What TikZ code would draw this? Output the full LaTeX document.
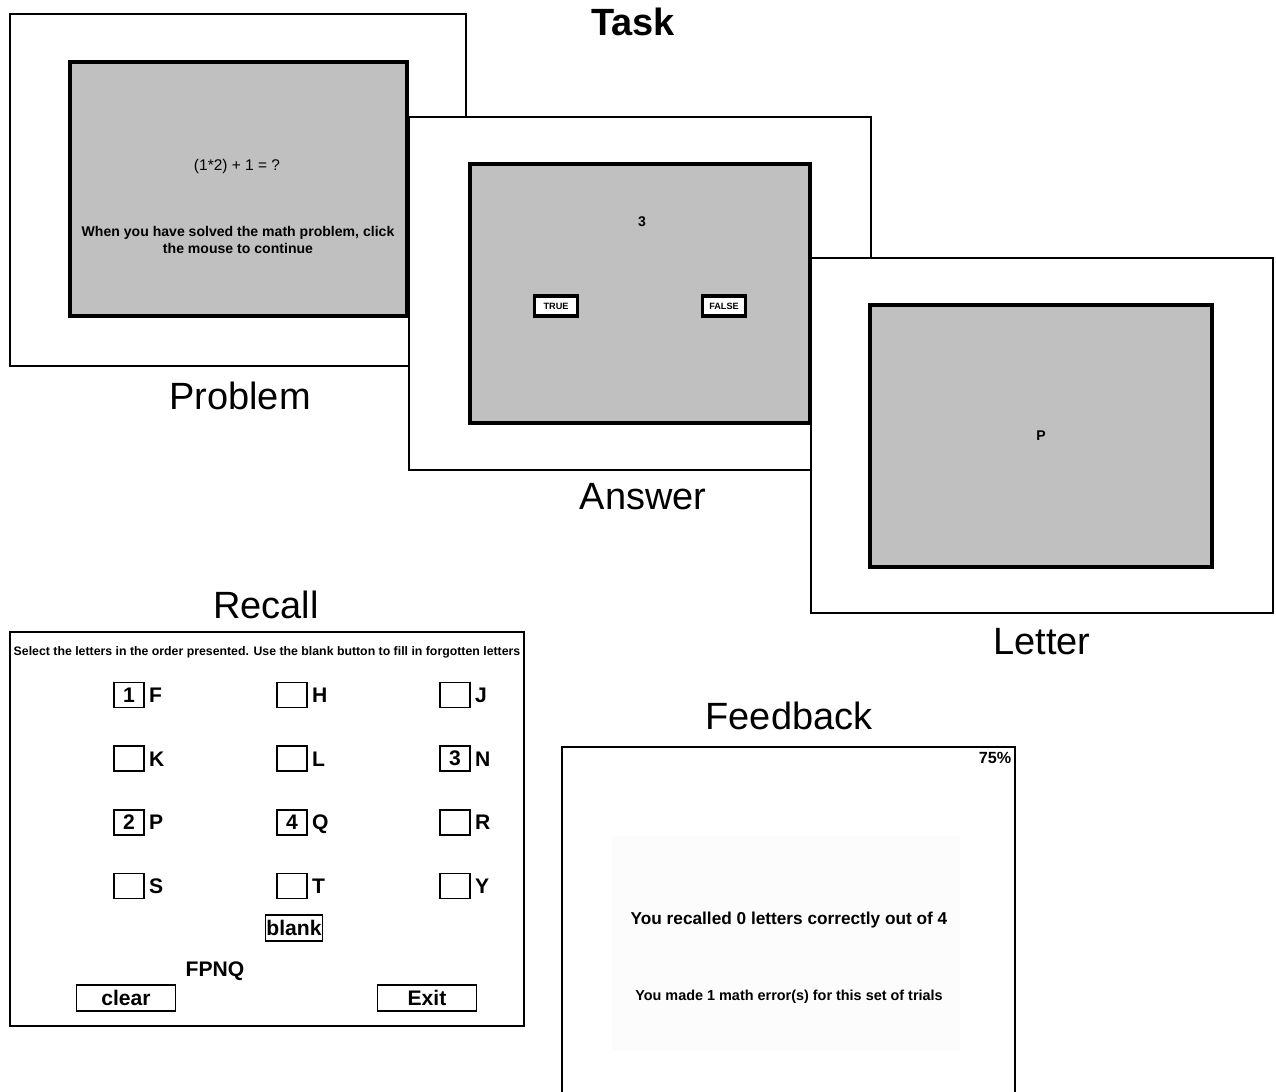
\documentclass[tikz,border=0pt]{standalone}
\usepackage{fontspec}
\setmainfont{Liberation Sans}
\usepackage{xcolor,tikz}
\usetikzlibrary{positioning}
\definecolor{screengray}{RGB}{192,192,192}
\tikzset{
  frame/.style={draw,fill=white,line width=0.6pt},
  screen/.style={draw,fill=screengray,line width=1.3pt},
  caption/.style={font=\fontsize{10.8}{13}\selectfont},
  heading/.style={font=\bfseries\fontsize{10.8}{13}\selectfont},
  small/.style={font=\fontsize{4.4}{5.2}\selectfont},
  tiny/.style={font=\bfseries\fontsize{4}{4.6}\selectfont},
  btn/.style={draw,fill=white,line width=1.1pt,inner sep=0pt,minimum width=0.43cm,minimum height=0.2cm,font=\bfseries\fontsize{2.6}{3}\selectfont},
  chk/.style={draw,line width=0.5pt,inner sep=0pt,minimum width=0.3cm,minimum height=0.25cm,font=\bfseries\fontsize{6}{7}\selectfont},
  pick/.style={inner sep=0pt,text height=4.3pt,text depth=0pt,font=\bfseries\fontsize{6}{7}\selectfont},
  key/.style={draw,line width=0.5pt,inner sep=0pt,minimum height=0.26cm,font=\bfseries\fontsize{6}{7}\selectfont}
}
\begin{document}
\begin{tikzpicture}[x=0.01cm,y=-0.01cm]
\useasboundingbox (0,0) rectangle (1276,1092);
\node[heading] (task) at (633,22) {Task};

% problem
\draw[frame] (10,14) rectangle (466,366);
\draw[screen] (70,62) rectangle (407,316);
\node[small] (sum) at (237,167) {(1*2) + 1 = ?};
\node[tiny,align=center] (hint) at (238,240) {When you have solved the math problem, click\\the mouse to continue};
\node[caption] (problem) at (240,396) {Problem};

% answer
\draw[frame] (409,117) rectangle (871,470);
\draw[screen] (470,164) rectangle (810,423);
\node[tiny] (value) at (642,222) {3};
\node[btn] (true) at (556,306) {TRUE};
\node[btn] (false) at (724,306) {FALSE};
\node[caption] (answer) at (643,497) {Answer};

% letter
\draw[frame] (811,258) rectangle (1273,613);
\draw[screen] (870,305) rectangle (1212,567);
\node[tiny] (shown) at (1041,436) {P};
\node[caption] (letter) at (1042,642) {Letter};

% recall
\node[caption] (recall) at (266,605) {Recall};
\draw[line width=0.8pt] (10,632) rectangle (524,1026);
\node[font=\bfseries\fontsize{3.5}{4}\selectfont] (instr) at (267,652) {Select the letters in the order presented. Use the blank button to fill in forgotten letters};
\foreach \l/\d [count=\k from 0] in {F/1,H/,J/,K/,L/,N/3,P/2,Q/4,R/,S/,T/,Y/} {
  \pgfmathsetmacro\cx{129+163*mod(\k,3)}
  \pgfmathsetmacro\cy{695+63.7*int(\k/3)}
  \node[chk] (box\k) at (\cx,\cy) {\d};
  \node[pick,right=1pt of box\k] (pick\k) {\l};
};
\node[key,minimum width=0.57cm] (blank) at (294,928) {blank};
\node[pick] (typed) at (215,969) {FPNQ};
\node[key,minimum width=0.99cm] (clear) at (126,998) {clear};
\node[key,minimum width=0.99cm] (exit) at (427,998) {Exit};

% feedback
\node[caption] (feedback) at (789,716) {Feedback};
\fill[black!1] (612,836) rectangle (960,1050);
\draw[line width=0.7pt] (562,1092) -- (562,747) -- (1015,747) -- (1015,1092);
\node[font=\bfseries\fontsize{4.6}{5}\selectfont] (score) at (995,758) {75\%};
\node[font=\bfseries\fontsize{4.9}{5.5}\selectfont] (recalled) at (789,920) {You recalled 0 letters correctly out of 4};
\node[font=\bfseries\fontsize{4.1}{4.8}\selectfont] (errors) at (789,997) {You made 1 math error(s) for this set of trials};
\end{tikzpicture}
\end{document}
